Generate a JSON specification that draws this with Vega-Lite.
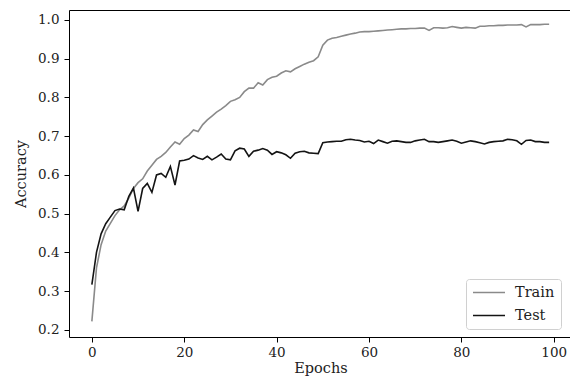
{
  "$schema": "https://vega.github.io/schema/vega-lite/v6.json",
  "autosize": {"type": "none"},
  "padding": {"left": 69, "top": 10, "right": 0, "bottom": 50},
  "width": 503,
  "height": 327,
  "background": "white",
  "config": {
    "view": {"stroke": "#000", "strokeWidth": 1},
    "font": "DejaVu Serif",
    "axis": {
      "domain": false,
      "grid": false,
      "tickColor": "#000",
      "tickSize": 5,
      "labelColor": "#222",
      "labelFontSize": 13.5,
      "labelFont": "DejaVu Serif",
      "titleFont": "DejaVu Serif",
      "titleFontSize": 14.5,
      "titleFontWeight": "normal",
      "titleColor": "#222"
    }
  },
  "data": {
    "values": [
      {"epoch":0,"Train":0.222,"Test":0.317},
      {"epoch":1,"Train":0.36,"Test":0.40},
      {"epoch":2,"Train":0.42,"Test":0.448},
      {"epoch":3,"Train":0.455,"Test":0.474},
      {"epoch":4,"Train":0.475,"Test":0.491},
      {"epoch":5,"Train":0.495,"Test":0.508},
      {"epoch":6,"Train":0.51,"Test":0.512},
      {"epoch":7,"Train":0.52,"Test":0.51},
      {"epoch":8,"Train":0.54,"Test":0.545},
      {"epoch":9,"Train":0.565,"Test":0.566},
      {"epoch":10,"Train":0.58,"Test":0.506},
      {"epoch":11,"Train":0.59,"Test":0.565},
      {"epoch":12,"Train":0.61,"Test":0.578},
      {"epoch":13,"Train":0.625,"Test":0.555},
      {"epoch":14,"Train":0.64,"Test":0.60},
      {"epoch":15,"Train":0.648,"Test":0.604},
      {"epoch":16,"Train":0.658,"Test":0.594},
      {"epoch":17,"Train":0.672,"Test":0.622},
      {"epoch":18,"Train":0.685,"Test":0.574},
      {"epoch":19,"Train":0.679,"Test":0.636},
      {"epoch":20,"Train":0.694,"Test":0.638},
      {"epoch":21,"Train":0.703,"Test":0.641},
      {"epoch":22,"Train":0.716,"Test":0.65},
      {"epoch":23,"Train":0.712,"Test":0.644},
      {"epoch":24,"Train":0.73,"Test":0.64},
      {"epoch":25,"Train":0.742,"Test":0.648},
      {"epoch":26,"Train":0.752,"Test":0.639},
      {"epoch":27,"Train":0.762,"Test":0.646},
      {"epoch":28,"Train":0.77,"Test":0.654},
      {"epoch":29,"Train":0.779,"Test":0.641},
      {"epoch":30,"Train":0.79,"Test":0.639},
      {"epoch":31,"Train":0.794,"Test":0.662},
      {"epoch":32,"Train":0.80,"Test":0.669},
      {"epoch":33,"Train":0.815,"Test":0.667},
      {"epoch":34,"Train":0.824,"Test":0.648},
      {"epoch":35,"Train":0.824,"Test":0.661},
      {"epoch":36,"Train":0.838,"Test":0.664},
      {"epoch":37,"Train":0.832,"Test":0.668},
      {"epoch":38,"Train":0.846,"Test":0.664},
      {"epoch":39,"Train":0.852,"Test":0.653},
      {"epoch":40,"Train":0.855,"Test":0.66},
      {"epoch":41,"Train":0.863,"Test":0.657},
      {"epoch":42,"Train":0.869,"Test":0.652},
      {"epoch":43,"Train":0.866,"Test":0.643},
      {"epoch":44,"Train":0.874,"Test":0.656},
      {"epoch":45,"Train":0.88,"Test":0.66},
      {"epoch":46,"Train":0.886,"Test":0.661},
      {"epoch":47,"Train":0.891,"Test":0.657},
      {"epoch":48,"Train":0.895,"Test":0.656},
      {"epoch":49,"Train":0.905,"Test":0.655},
      {"epoch":50,"Train":0.935,"Test":0.683},
      {"epoch":51,"Train":0.948,"Test":0.685},
      {"epoch":52,"Train":0.953,"Test":0.686},
      {"epoch":53,"Train":0.955,"Test":0.687},
      {"epoch":54,"Train":0.958,"Test":0.687},
      {"epoch":55,"Train":0.961,"Test":0.691},
      {"epoch":56,"Train":0.964,"Test":0.692},
      {"epoch":57,"Train":0.966,"Test":0.69},
      {"epoch":58,"Train":0.969,"Test":0.689},
      {"epoch":59,"Train":0.97,"Test":0.685},
      {"epoch":60,"Train":0.97,"Test":0.687},
      {"epoch":61,"Train":0.971,"Test":0.681},
      {"epoch":62,"Train":0.972,"Test":0.69},
      {"epoch":63,"Train":0.973,"Test":0.686},
      {"epoch":64,"Train":0.974,"Test":0.682},
      {"epoch":65,"Train":0.975,"Test":0.687},
      {"epoch":66,"Train":0.976,"Test":0.688},
      {"epoch":67,"Train":0.977,"Test":0.686},
      {"epoch":68,"Train":0.977,"Test":0.684},
      {"epoch":69,"Train":0.978,"Test":0.684},
      {"epoch":70,"Train":0.978,"Test":0.688},
      {"epoch":71,"Train":0.979,"Test":0.69},
      {"epoch":72,"Train":0.979,"Test":0.692},
      {"epoch":73,"Train":0.973,"Test":0.686},
      {"epoch":74,"Train":0.98,"Test":0.686},
      {"epoch":75,"Train":0.98,"Test":0.684},
      {"epoch":76,"Train":0.979,"Test":0.686},
      {"epoch":77,"Train":0.98,"Test":0.688},
      {"epoch":78,"Train":0.983,"Test":0.69},
      {"epoch":79,"Train":0.981,"Test":0.687},
      {"epoch":80,"Train":0.979,"Test":0.682},
      {"epoch":81,"Train":0.981,"Test":0.685},
      {"epoch":82,"Train":0.98,"Test":0.688},
      {"epoch":83,"Train":0.979,"Test":0.686},
      {"epoch":84,"Train":0.984,"Test":0.683},
      {"epoch":85,"Train":0.984,"Test":0.68},
      {"epoch":86,"Train":0.985,"Test":0.684},
      {"epoch":87,"Train":0.985,"Test":0.686},
      {"epoch":88,"Train":0.986,"Test":0.687},
      {"epoch":89,"Train":0.986,"Test":0.688},
      {"epoch":90,"Train":0.987,"Test":0.692},
      {"epoch":91,"Train":0.987,"Test":0.691},
      {"epoch":92,"Train":0.987,"Test":0.688},
      {"epoch":93,"Train":0.988,"Test":0.679},
      {"epoch":94,"Train":0.982,"Test":0.689},
      {"epoch":95,"Train":0.988,"Test":0.69},
      {"epoch":96,"Train":0.988,"Test":0.686},
      {"epoch":97,"Train":0.988,"Test":0.686},
      {"epoch":98,"Train":0.989,"Test":0.684},
      {"epoch":99,"Train":0.989,"Test":0.684}
    ]
  },
  "transform": [{"fold": ["Train", "Test"], "as": ["series", "acc"]}],
  "mark": {"type": "line", "strokeWidth": 1.6, "clip": true},
  "encoding": {
    "x": {
      "field": "epoch", "type": "quantitative",
      "scale": {"domain": [-4.95, 103.95], "nice": false, "zero": false},
      "axis": {"values": [0, 20, 40, 60, 80, 100], "title": "Epochs", "titlePadding": 3, "labelPadding": 3}
    },
    "y": {
      "field": "acc", "type": "quantitative",
      "scale": {"domain": [0.1816, 1.0258], "nice": false, "zero": false},
      "axis": {"values": [0.2, 0.3, 0.4, 0.5, 0.6, 0.7, 0.8, 0.9, 1.0], "format": ".1f", "title": "Accuracy", "titlePadding": 9, "labelPadding": 5}
    },
    "color": {
      "field": "series", "type": "nominal",
      "scale": {"domain": ["Train", "Test"], "range": ["#8a8a8a", "#141414"]},
      "legend": {
        "title": null,
        "orient": "none",
        "legendX": 397,
        "legendY": 269,
        "symbolType": "stroke",
        "symbolSize": 1024,
        "symbolStrokeWidth": 1.6,
        "clipHeight": 15,
        "labelFontSize": 14.5,
        "labelOffset": 9,
        "labelFont": "DejaVu Serif",
        "labelColor": "#222",
        "rowPadding": 7,
        "padding": 6,
        "strokeColor": "#d0d0d0",
        "fillColor": "white",
        "cornerRadius": 3
      }
    }
  }
}
